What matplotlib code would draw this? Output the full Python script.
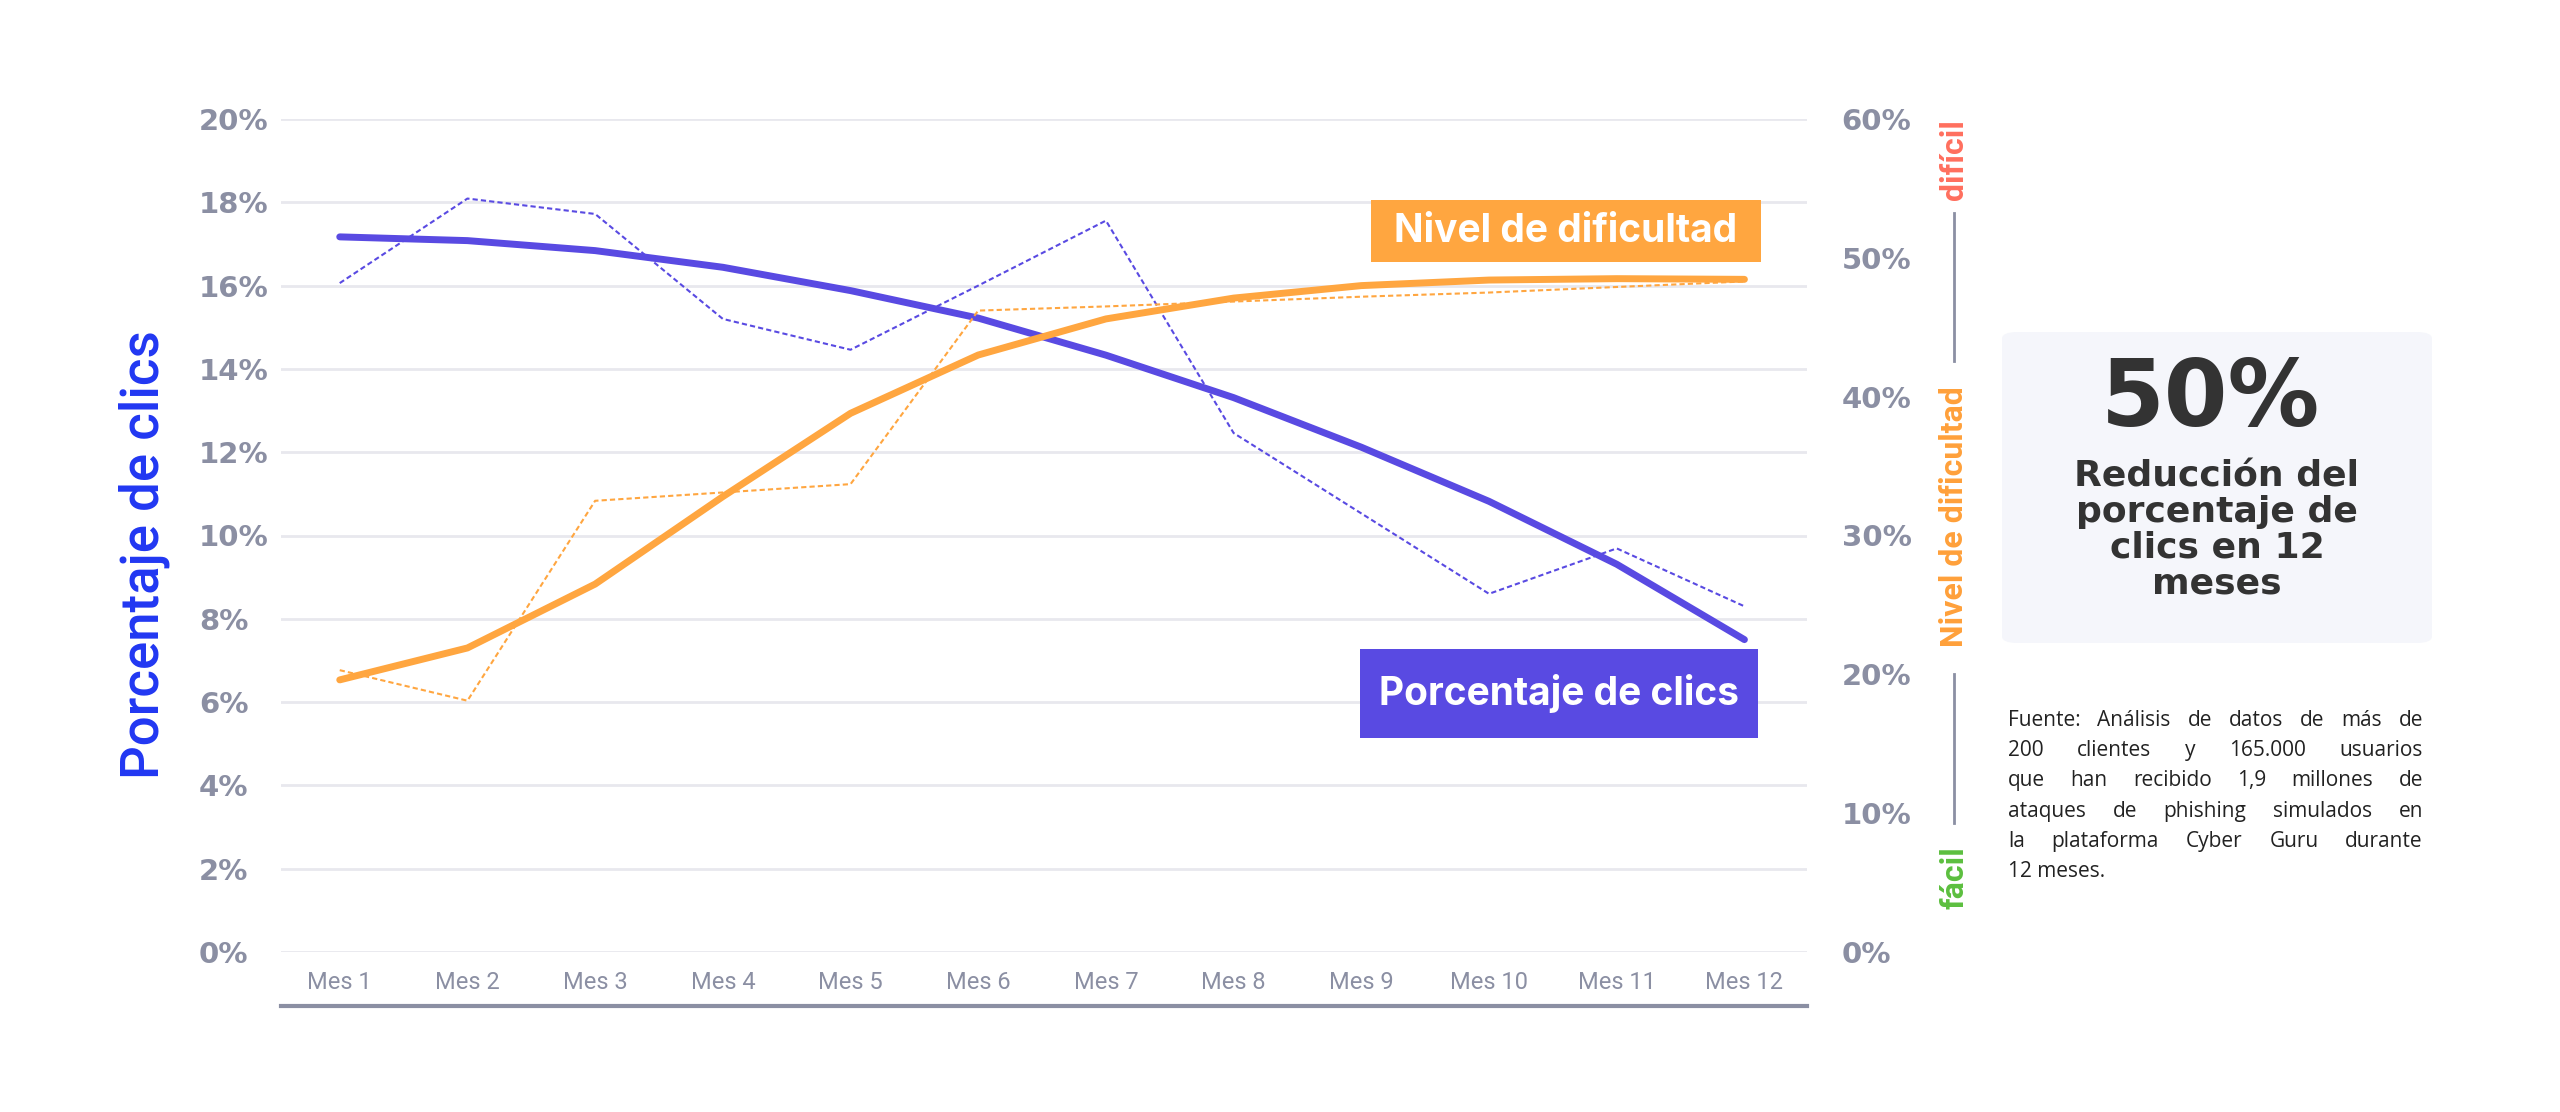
import matplotlib
matplotlib.use("Agg")
import matplotlib.pyplot as plt
from matplotlib.patches import Rectangle, FancyBboxPatch
from matplotlib.lines import Line2D

# datos
meses = ["Mes 1", "Mes 2", "Mes 3", "Mes 4", "Mes 5", "Mes 6",
         "Mes 7", "Mes 8", "Mes 9", "Mes 10", "Mes 11", "Mes 12"]
clics_real = [16.06, 18.09, 17.72, 15.2, 14.46, 16.0, 17.56, 12.46, 10.53, 8.6, 9.69, 8.3]
clics_tend = [17.17, 17.08, 16.84, 16.44, 15.88, 15.22, 14.33, 13.31, 12.12, 10.82, 9.31, 7.5]
dific_real = [20.3, 18.1, 32.5, 33.1, 33.7, 46.2, 46.5, 46.85, 47.2, 47.5, 47.9, 48.3]
dific_tend = [19.6, 21.9, 26.5, 32.8, 38.8, 43.0, 45.6, 47.1, 48.0, 48.4, 48.5, 48.45]

ticks_izq = [0, 2, 4, 6, 8, 10, 12, 14, 16, 18, 20]
ticks_der = [0, 10, 20, 30, 40, 50, 60]

fuente_lineas = [
    "Fuente: Análisis de datos de más de",
    "200 clientes y 165.000 usuarios",
    "que han recibido 1,9 millones de",
    "ataques de phishing simulados en",
    "la plataforma Cyber Guru durante",
    "12 meses.",
]

AZUL = "#594ae2"
NARANJA = "#ffa640"
GRIS = "#8b8fa3"
REJILLA = "#e8e8ee"

W, H = 2560, 1112
def fx(px): return px / W
def fy(py): return 1 - py / H

fig = plt.figure(figsize=(25.6, 11.12), dpi=100)
ax = fig.add_axes([fx(281), fy(952), fx(1807) - fx(281), fy(119) - fy(952)])
ax2 = ax.twinx()

x = list(range(1, 13))

# ejes y rejilla
ax.set_xlim(0.54, 12.49)
ax.set_ylim(0, 20)
ax2.set_ylim(0, 60)
ax.set_yticks(ticks_izq)
ax.set_yticklabels([f"{t}%" for t in ticks_izq])
ax2.set_yticks(ticks_der)
ax2.set_yticklabels([f"{t}%" for t in ticks_der])
ax.set_xticks(x)
ax.set_xticklabels(meses)
ax.grid(axis="y", color=REJILLA, lw=2)
ax.set_axisbelow(True)
for a in (ax, ax2):
    for s in a.spines.values():
        s.set_visible(False)
ax.tick_params(axis="both", length=0)
ax2.tick_params(axis="both", length=0)
ax.tick_params(axis="y", pad=59, labelcolor=GRIS)
ax2.tick_params(axis="y", pad=25, labelcolor=GRIS)
ax.tick_params(axis="x", pad=14, labelcolor=GRIS)
for t in ax.get_yticklabels() + ax2.get_yticklabels():
    t.set_fontfamily("DejaVu Sans")
    t.set_fontweight("bold")
    t.set_fontsize(21)
for t in ax.get_yticklabels():
    t.set_ha("left")
for t in ax.get_xticklabels():
    t.set_fontfamily(["Liberation Sans Narrow", "Roboto"])
    t.set_fontsize(17)

# líneas
ax.plot(x, clics_real, color=AZUL, lw=1.5, dashes=(2.5, 1.5), zorder=2)
ax2.plot(x, dific_real, color=NARANJA, lw=1.5, dashes=(2.5, 1.5), zorder=2)
ax.plot(x, clics_tend, color=AZUL, lw=5, solid_capstyle="round", solid_joinstyle="round", zorder=3)
ax2.plot(x, dific_tend, color=NARANJA, lw=5, solid_capstyle="round", solid_joinstyle="round", zorder=4)

# línea inferior
ax.plot([0, 1], [-0.065, -0.065], transform=ax.transAxes, color=GRIS, lw=3, clip_on=False)

# título eje izquierdo
fig.text(fx(144), fy(555), "Porcentaje de clics", rotation=90, ha="center", va="center",
         color="#2137f2", fontsize=38, fontfamily="Roboto", fontweight="medium")

# escala de dificultad a la derecha
xd = fx(1954)
kw_d = dict(rotation=90, ha="center", va="center", fontsize=23, fontfamily="Roboto", fontweight="bold")
fig.text(xd, fy(160), "difícil", color="#ff6f5e", **kw_d)
fig.text(xd, fy(517), "Nivel de dificultad", color="#ffa03a", **kw_d)
fig.text(xd, fy(878), "fácil", color="#5cbf3f", **kw_d)
for y0, y1 in [(213, 361), (674, 823)]:
    fig.add_artist(Line2D([xd, xd], [fy(y0), fy(y1)], color=GRIS, lw=2))

# etiquetas de las series
def etiqueta(x0, x1, y0, y1, texto, color):
    fig.add_artist(Rectangle((fx(x0), fy(y1)), fx(x1) - fx(x0), fy(y0) - fy(y1),
                             facecolor=color, edgecolor="none", zorder=5))
    fig.text(fx((x0 + x1) / 2), fy((y0 + y1) / 2), texto, ha="center", va="center",
             color="white", fontsize=28, fontfamily="Inter", fontweight="bold", zorder=6)

etiqueta(1371, 1761, 200, 262, "Nivel de dificultad", NARANJA)
etiqueta(1360, 1758, 649, 738, "Porcentaje de clics", AZUL)

# recuadro del 50 %
fig.add_artist(FancyBboxPatch((fx(2002), fy(643)), fx(2432) - fx(2002), fy(332) - fy(643),
                              boxstyle="round,pad=0,rounding_size=0.006",
                              facecolor="#f5f6fb", edgecolor="none"))
fig.text(fx(2210), fy(400), "50%", ha="center", va="center", color="#333333",
         fontsize=66, fontfamily="DejaVu Sans", fontweight="bold")
fig.text(fx(2217), fy(530), "Reducción del\nporcentaje de\nclics en 12\nmeses", ha="center", va="center",
         color="#333333", fontsize=26, fontfamily="DejaVu Sans", fontweight="bold", linespacing=1.05)

# texto de la fuente, justificado
renderer = fig.canvas.get_renderer()
x_ini, x_fin = 2008, 2423
kw = dict(fontsize=15, color="#222222", fontfamily="Open Sans", va="baseline")
for i, linea in enumerate(fuente_lineas):
    yb = fy(726 + i * 30.2)
    if i == len(fuente_lineas) - 1:
        fig.text(fx(x_ini), yb, linea, **kw)
        continue
    palabras = linea.split()
    arts = [fig.text(0, yb, p, **kw) for p in palabras]
    anchos = [a.get_window_extent(renderer).width for a in arts]
    hueco = ((x_fin - x_ini) - sum(anchos)) / (len(palabras) - 1)
    pos = x_ini
    for a, w in zip(arts, anchos):
        a.set_x(fx(pos))
        pos += w + hueco

fig.savefig("out.png", dpi=100, facecolor="white")
